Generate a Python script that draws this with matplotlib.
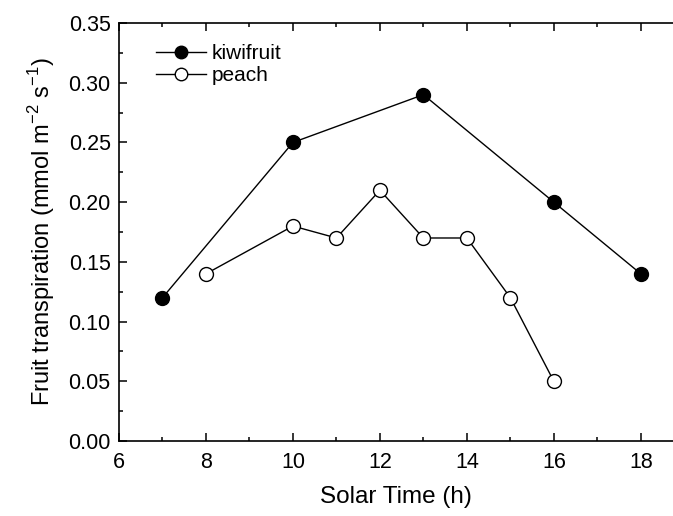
import matplotlib
matplotlib.use("Agg")
import matplotlib.pyplot as plt
from matplotlib.ticker import MultipleLocator

plt.rcParams['font.family'] = ['Liberation Sans', 'DejaVu Sans']
plt.rcParams['mathtext.fontset'] = 'custom'
plt.rcParams['mathtext.rm'] = 'Liberation Sans'

kiwi_time = [7, 10, 13, 16, 18]
kiwi_trans = [0.12, 0.25, 0.29, 0.20, 0.14]
peach_time = [8, 10, 11, 12, 13, 14, 15, 16]
peach_trans = [0.14, 0.18, 0.17, 0.21, 0.17, 0.17, 0.12, 0.05]

fig = plt.figure(figsize=(6.73, 5.16), dpi=100)
ax = fig.add_axes([0.1768, 0.1453, 0.8232, 0.8101])

ax.plot(kiwi_time, kiwi_trans, '-o', color='black', lw=1, ms=10,
        mfc='black', mec='black', label='kiwifruit')
ax.plot(peach_time, peach_trans, '-o', color='black', lw=1, ms=10,
        mfc='white', mec='black', label='peach')

ax.set_xlim(6, 18.74)
ax.set_ylim(0, 0.35)
ax.xaxis.set_major_locator(MultipleLocator(2))
ax.xaxis.set_minor_locator(MultipleLocator(1))
ax.yaxis.set_major_locator(MultipleLocator(0.05))
ax.yaxis.set_minor_locator(MultipleLocator(0.025))
ax.yaxis.set_major_formatter(plt.FormatStrFormatter('%.2f'))
ax.spines['right'].set_visible(False)
for s in ['left', 'bottom', 'top']:
    ax.spines[s].set_linewidth(1.2)
ax.tick_params(which='both', direction='in', top=True, right=False, labelsize=15.5, width=1.1)
ax.tick_params(which='major', length=6)
ax.tick_params(which='minor', length=3)
ax.tick_params(axis='y', pad=6)
ax.tick_params(axis='x', pad=8)

ax.set_xlabel('Solar Time (h)', fontsize=17.5, labelpad=9)
ax.set_ylabel('Fruit transpiration (mmol m$^{\\mathrm{-2}}$ s$^{\\mathrm{-1}}$)', fontsize=17, labelpad=8)

ax.legend(loc='upper left', frameon=False, fontsize=15, handlelength=2.4,
          handletextpad=0.25, borderaxespad=0.6, labelspacing=0.15,
          markerscale=0.9, bbox_to_anchor=(0.03, 1.0))

fig.savefig('out.png', dpi=100)
